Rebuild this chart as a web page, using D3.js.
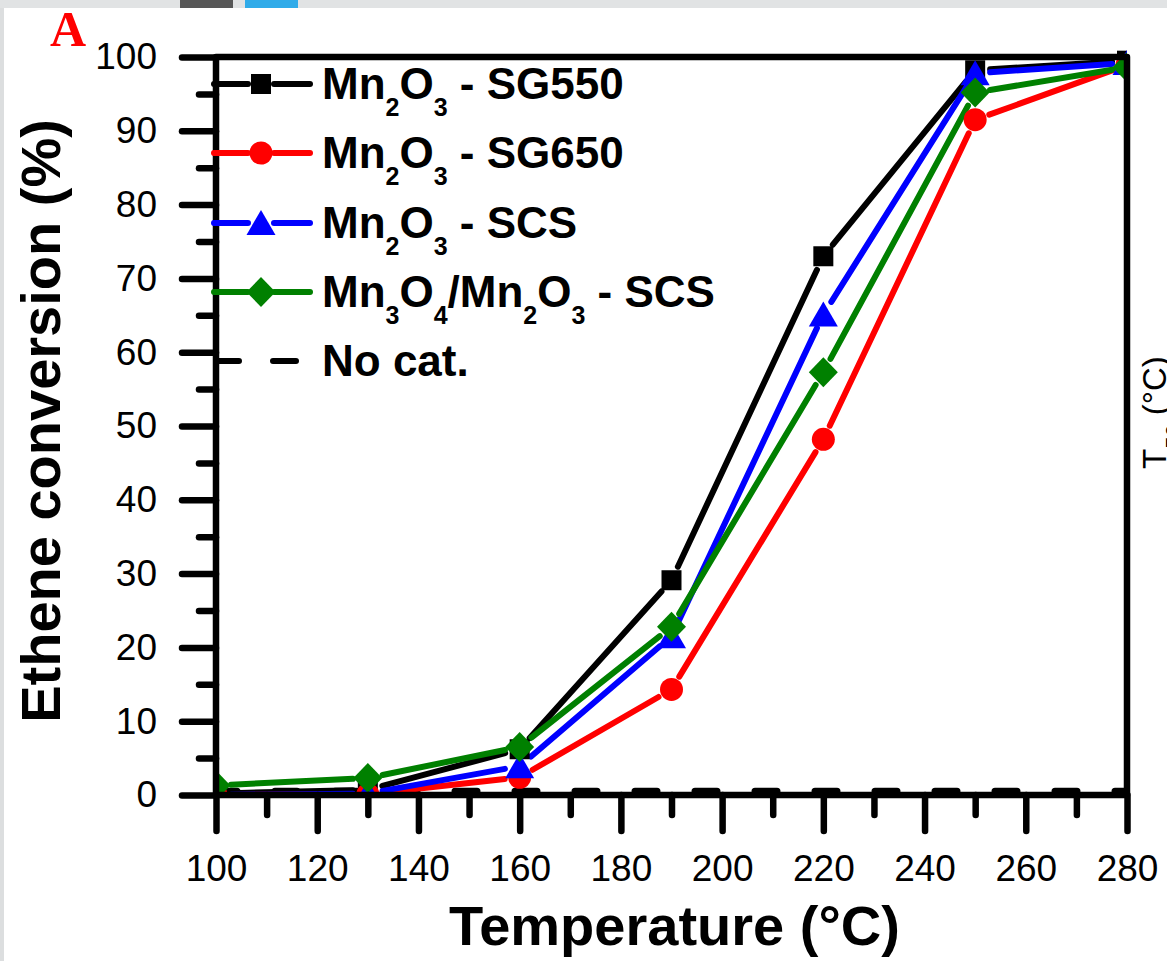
<!DOCTYPE html>
<html><head><meta charset="utf-8">
<script src="https://cdn.jsdelivr.net/npm/d3@7"></script>
<style>
body{margin:0;background:#fff;}
svg{display:block;}
</style>
</head><body>
<svg id="chart" width="1167" height="961"></svg>
<script>
// ---------- data ----------
const temps = [100, 130, 160, 190, 220, 250, 280];
const sg550 = [0.2, 0.7, 6.2, 29.1, 73.0, 98.2, 99.5];
const sg650 = [0.0, 0.1, 2.4, 14.3, 48.2, 91.5, 98.9];
const scs   = [0.0, 0.2, 3.9, 21.5, 65.1, 97.8, 99.2];
const mixed = [1.3, 2.3, 6.5, 22.8, 57.3, 95.2, 98.6];
const noCatTemps = [100, 280];
const noCat = [0.5, 0.5];
const xTickValues = [100, 120, 140, 160, 180, 200, 220, 240, 260, 280];
const xMinorValues = [110, 130, 150, 170, 190, 210, 230, 250, 270];
const yTickValues = [0, 10, 20, 30, 40, 50, 60, 70, 80, 90, 100];
const yMinorValues = [5, 15, 25, 35, 45, 55, 65, 75, 85, 95];
const legendLabels = [
  [["Mn",0],["2",1],["O",0],["3",1],[" - SG550",0]],
  [["Mn",0],["2",1],["O",0],["3",1],[" - SG650",0]],
  [["Mn",0],["2",1],["O",0],["3",1],[" - SCS",0]],
  [["Mn",0],["3",1],["O",0],["4",1],["/Mn",0],["2",1],["O",0],["3",1],[" - SCS",0]],
  [["No cat.",0]]
];
const seriesValues = [sg550, sg650, scs, mixed];
const seriesColors = ["#000000", "#ff0000", "#0000ff", "#008000"];
const seriesShapes = ["square", "circle", "triangle", "diamond"];

// ---------- setup ----------
const svg = d3.select("#chart");
const L = 216, R = 1127, T = 57, B = 795;
const x = d3.scaleLinear().domain([100, 280]).range([L, R]);
const y = d3.scaleLinear().domain([0, 100]).range([B, T]);
const FONT = "'Liberation Sans', Arial, Helvetica, sans-serif";
const AXW = 6.5, LW = 6;

// page chrome
svg.append("rect").attr("x",0).attr("y",0).attr("width",1167).attr("height",961).attr("fill","#fff");
svg.append("rect").attr("x",0).attr("y",0).attr("width",1167).attr("height",8).attr("fill","#e1e3e4");
svg.append("rect").attr("x",0).attr("y",8).attr("width",4).attr("height",953).attr("fill","#dcdedf");
svg.append("rect").attr("x",180).attr("y",0).attr("width",53).attr("height",8).attr("fill","#575757");
svg.append("rect").attr("x",245).attr("y",0).attr("width",53).attr("height",8).attr("fill","#30abe9");

function markerPath(shape) {
  switch (shape) {
    case "square": return "M-10,-10H10V10H-10Z";
    case "circle": return d3.arc()({innerRadius:0, outerRadius:11.5, startAngle:0, endAngle:2*Math.PI});
    case "triangle": return "M0,-13L14.5,12L-14.5,12Z";
    case "diamond": return "M0,-15L14.5,0L0,15L-14.5,0Z";
  }
}

svg.append("defs").append("clipPath").attr("id","plotclip")
  .append("rect").attr("x",L).attr("y",T-10).attr("width",R-L).attr("height",B-T+10);

const plot = svg.append("g").attr("clip-path","url(#plotclip)");

// No catalyst dashed line
plot.append("path")
  .datum(noCatTemps.map((t,i)=>[t,noCat[i]]))
  .attr("d", d3.line().x(d=>x(d[0])).y(d=>y(d[1])))
  .attr("fill","none").attr("stroke","#000").attr("stroke-width",LW+1)
  .attr("stroke-linecap","round").attr("stroke-dasharray","22,38").attr("stroke-dashoffset",1);

// series lines with gaps around markers
const GAP = 15;
seriesValues.forEach((vals, si) => {
  const pts = temps.map((t,i)=>[x(t), y(vals[i])]);
  const segs = [];
  for (let i=0;i<pts.length-1;i++){
    const [x1,y1]=pts[i],[x2,y2]=pts[i+1];
    const dx=x2-x1, dy=y2-y1, len=Math.hypot(dx,dy);
    if (len <= 2*GAP) continue;
    const ux=dx/len, uy=dy/len;
    segs.push([[x1+ux*GAP,y1+uy*GAP],[x2-ux*GAP,y2-uy*GAP]]);
  }
  plot.append("g").selectAll("line").data(segs).join("line")
    .attr("x1",d=>d[0][0]).attr("y1",d=>d[0][1]).attr("x2",d=>d[1][0]).attr("y2",d=>d[1][1])
    .attr("stroke",seriesColors[si]).attr("stroke-width",LW).attr("stroke-linecap","round");
});
// markers
seriesValues.forEach((vals, si) => {
  plot.append("g").selectAll("path").data(temps.map((t,i)=>[t,vals[i]])).join("path")
    .attr("transform",d=>`translate(${x(d[0])},${y(d[1])})`)
    .attr("d", markerPath(seriesShapes[si]))
    .attr("fill", seriesColors[si]);
});

// ---------- axes ----------
function styleAxis(g, labels) {
  g.select(".domain").remove();
  g.selectAll(".tick line").attr("stroke","#000").attr("stroke-width",AXW).attr("stroke-linecap","round");
  if (labels) g.selectAll(".tick text").attr("fill","#000").style("font-family",FONT).style("font-size","37px");
  else g.selectAll(".tick text").remove();
}
svg.append("g").attr("transform",`translate(0,${B})`)
  .call(d3.axisBottom(x).tickValues(xMinorValues).tickSize(20).tickSizeOuter(0).tickFormat(""))
  .call(g=>styleAxis(g,false));
svg.append("g").attr("transform",`translate(0,${B})`)
  .call(d3.axisBottom(x).tickValues(xTickValues).tickSize(36).tickSizeOuter(0).tickPadding(24).tickFormat(d3.format("d")))
  .call(g=>styleAxis(g,true));
svg.append("g").attr("transform",`translate(${L},0)`)
  .call(d3.axisLeft(y).tickValues(yMinorValues).tickSize(17).tickSizeOuter(0).tickFormat(""))
  .call(g=>styleAxis(g,false));
svg.append("g").attr("transform",`translate(${L},0)`)
  .call(d3.axisLeft(y).tickValues(yTickValues).tickSize(34).tickSizeOuter(0).tickPadding(25).tickFormat(d3.format("d")))
  .call(g=>styleAxis(g,true));

// frame
svg.append("path")
  .attr("d", `M${L},${B}V${T}H${R}V${B}H${L}Z`)
  .attr("fill","none").attr("stroke","#000").attr("stroke-width",AXW).attr("stroke-linejoin","round");

// ---------- titles ----------
svg.append("text").attr("x",(L+R)/2+3).attr("y",945).attr("text-anchor","middle")
  .style("font-family",FONT).style("font-weight","bold").style("font-size","56px").text("Temperature (°C)");
svg.append("text").attr("transform","translate(60,421) rotate(-90)").attr("text-anchor","middle")
  .style("font-family",FONT).style("font-weight","bold").style("font-size","56px").text("Ethene conversion (%)");
svg.append("text").attr("x",50).attr("y",46)
  .style("font-family","'Liberation Serif', 'Times New Roman', serif").style("font-weight","bold")
  .style("font-size","50px").attr("fill","#ff0000").text("A");
const t50 = svg.append("text").attr("transform","translate(1166,469) rotate(-90)")
  .style("font-family",FONT).style("font-size","33px").attr("fill","#000");
t50.append("tspan").text("T");
t50.append("tspan").attr("dy",15).style("font-size","22px").text("50");
t50.append("tspan").attr("dy",-15).text(" (°C)");

// ---------- legend ----------
const legendY = [84, 153, 223, 292, 361];
const lg = svg.append("g");
legendLabels.forEach((parts, i) => {
  const ly = legendY[i];
  const g = lg.append("g");
  if (i < 4) {
    g.append("line").attr("x1",214).attr("x2",248).attr("y1",ly).attr("y2",ly)
      .attr("stroke",seriesColors[i]).attr("stroke-width",LW).attr("stroke-linecap","round");
    g.append("line").attr("x1",274).attr("x2",310).attr("y1",ly).attr("y2",ly)
      .attr("stroke",seriesColors[i]).attr("stroke-width",LW).attr("stroke-linecap","round");
    g.append("path").attr("transform",`translate(261,${ly})`).attr("d",markerPath(seriesShapes[i])).attr("fill",seriesColors[i]);
  } else {
    g.append("line").attr("x1",216).attr("x2",296).attr("y1",ly).attr("y2",ly)
      .attr("stroke","#000").attr("stroke-width",LW).attr("stroke-linecap","round")
      .attr("stroke-dasharray","23,34");
  }
  const txt = g.append("text").attr("x",322).attr("y",ly+15)
    .style("font-family",FONT).style("font-weight","bold").style("font-size","44px").attr("fill","#000");
  let down = false;
  parts.forEach(([s, sub]) => {
    const ts = txt.append("tspan").text(s);
    if (sub && !down) { ts.attr("dy",17).style("font-size","25px"); down = true; }
    else if (sub) { ts.style("font-size","25px"); }
    else if (down) { ts.attr("dy",-17); down = false; }
  });
});
</script>
</body></html>
